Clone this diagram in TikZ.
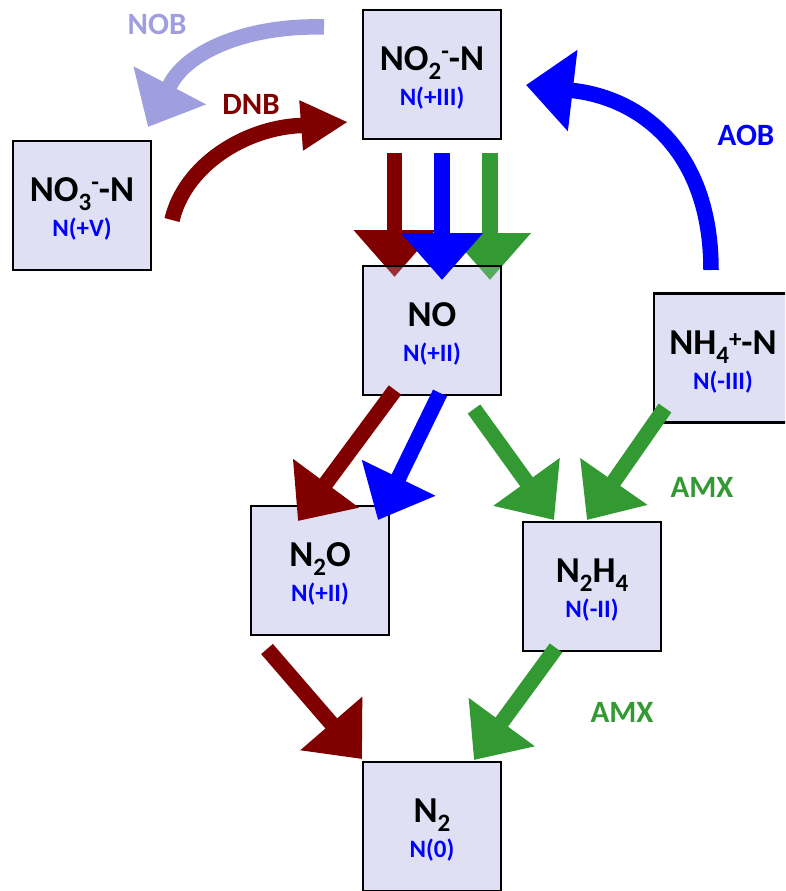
\documentclass[tikz,border=0pt]{standalone}
\usepackage{fontspec}
\setmainfont{Carlito}
\usetikzlibrary{arrows.meta,calc}
\definecolor{boxfill}{RGB}{223,224,244}
\definecolor{dred}{RGB}{128,0,0}
\definecolor{agreen}{RGB}{51,153,51}
\definecolor{ablue}{RGB}{0,0,255}
\definecolor{lpurple}{RGB}{159,159,223}
\newcommand\mysub[1]{\raisebox{-9pt}{\fontsize{25}{25}\selectfont #1}}
\newcommand\mysupm[1]{\raisebox{11pt}{\fontsize{25}{25}\selectfont #1}}
\newcommand\mysupp[1]{\raisebox{7pt}{\fontsize{25}{25}\selectfont #1}}
\tikzset{
  chembox/.style={draw=black, line width=2.7pt, fill=boxfill, minimum width=138pt, minimum height=129pt, inner sep=0pt, outer sep=0pt},
  maintxt/.style={anchor=base, inner sep=0pt, font=\fontsize{36.5}{42}\selectfont\bfseries},
  subtxt/.style={anchor=base, inner sep=0pt, text=ablue, font=\fontsize{25}{30}\selectfont\bfseries},
  lbl/.style={inner sep=0pt, font=\fontsize{31}{36}\selectfont\bfseries},
  fat/.style={line width=15.5pt, -{Triangle[width=79pt,length=47pt]}},
  fatsmall/.style={line width=15.5pt, -{Triangle[width=47pt,length=47pt]}}
}
\begin{document}
\begin{tikzpicture}[x=1pt,y=-1pt]
\useasboundingbox (0,0) rectangle (785,891);
\clip (0,0) rectangle (785,891);
% coordinates for curved arrows
\coordinate (nobS) at (324,27);
\coordinate (nobB) at (170,85);
\coordinate (nobT) at (148,127);
\coordinate (dnbS) at (172,220);
\coordinate (dnbB) at (300.5,125.5);
\coordinate (dnbT) at (348,122);
\coordinate (aobS) at (711,270);
\coordinate (aobB) at (572.5,90.5);
\coordinate (aobT) at (526,85);
% curved arrows
\draw[fat, lpurple] (nobS) .. controls (250,25) and (188,50) .. (nobB) -- (nobT);
\draw[fatsmall, dred] (dnbS) .. controls (185,165) and (245,128) .. (dnbB) -- (dnbT);
\draw[fat, ablue] (aobS) .. controls (711,150) and (640,98) .. (aobB) -- (aobT);
% boxes
\node[chembox] (no2) at (432,74.5) {};
\node[chembox] (no3) at (82,205.5) {};
\node[chembox, draw=none] (no) at (432,330.5) {};
\node[chembox] (nh4) at (723,358) {};
\node[chembox] (n2o) at (320,570.5) {};
\node[chembox] (n2h4) at (592,586.5) {};
\node[chembox] (n2) at (432,826.5) {};
% vertical arrows NO2 -> NO
\coordinate (vrS) at (394.5,153);
\coordinate (vrE) at (394.5,277);
\coordinate (vbS) at (442,153);
\coordinate (vbE) at (442,280);
\coordinate (vgS) at (490,153);
\coordinate (vgE) at (490,280);
\draw[fat, dred] (vrS) -- (vrE);
\draw[fat, agreen] (vgS) -- (vgE);
\fill[boxfill, fill opacity=0.22] (no.south west) rectangle (no.north east);
\draw[line width=2.7pt] (no.south west) rectangle (no.north east);
\draw[fat, ablue] (vbS) -- (vbE);
% diagonal arrows
\coordinate (d1S) at (395,390);
\coordinate (d1E) at (298,521);
\coordinate (d2S) at (440,393);
\coordinate (d2E) at (378,520);
\coordinate (d3S) at (474,409);
\coordinate (d3E) at (554,520);
\coordinate (d4S) at (665,408);
\coordinate (d4E) at (587,520);
\coordinate (d5S) at (267,649);
\coordinate (d5E) at (362,759);
\coordinate (d6S) at (556,648);
\coordinate (d6E) at (474,760);
\draw[fat, dred] (d1S) -- (d1E);
\draw[fat, ablue] (d2S) -- (d2E);
\draw[fat, agreen] (d3S) -- (d3E);
\draw[fat, agreen] (d4S) -- (d4E);
\draw[fat, dred] (d5S) -- (d5E);
\draw[fat, agreen] (d6S) -- (d6E);
% box texts
\node[maintxt] (no2m) at (432,70.5) {NO\mysub{2}\mysupm{-}-N};
\node[subtxt] (no2s) at (432,105.5) {N(+III)};
\node[maintxt] (no3m) at (82,201.5) {NO\mysub{3}\mysupm{-}-N};
\node[subtxt] (no3s) at (82,236.5) {N(+V)};
\node[maintxt] (nom) at (432,326.5) {NO};
\node[subtxt] (nos) at (432,361.5) {N(+II)};
\node[maintxt] (nh4m) at (723,354) {NH\mysub{4}\mysupp{+}-N};
\node[subtxt] (nh4s) at (723,389) {N(-III)};
\node[maintxt] (n2om) at (320,566.5) {N\mysub{2}O};
\node[subtxt] (n2os) at (320,601.5) {N(+II)};
\node[maintxt] (n2h4m) at (592,582.5) {N\mysub{2}H\mysub{4}};
\node[subtxt] (n2h4s) at (592,617.5) {N(-II)};
\node[maintxt] (n2m) at (432,822.5) {N\mysub{2}};
\node[subtxt] (n2s) at (432,857.5) {N(0)};
% labels
\node[lbl, text=lpurple] (lnob) at (157,24) {NOB};
\node[lbl, text=dred] (ldnb) at (251,104) {DNB};
\node[lbl, text=ablue] (laob) at (746,135.5) {AOB};
\node[lbl, text=agreen] (lamx1) at (702,487) {AMX};
\node[lbl, text=agreen] (lamx2) at (622,712) {AMX};
\end{tikzpicture}
\end{document}
